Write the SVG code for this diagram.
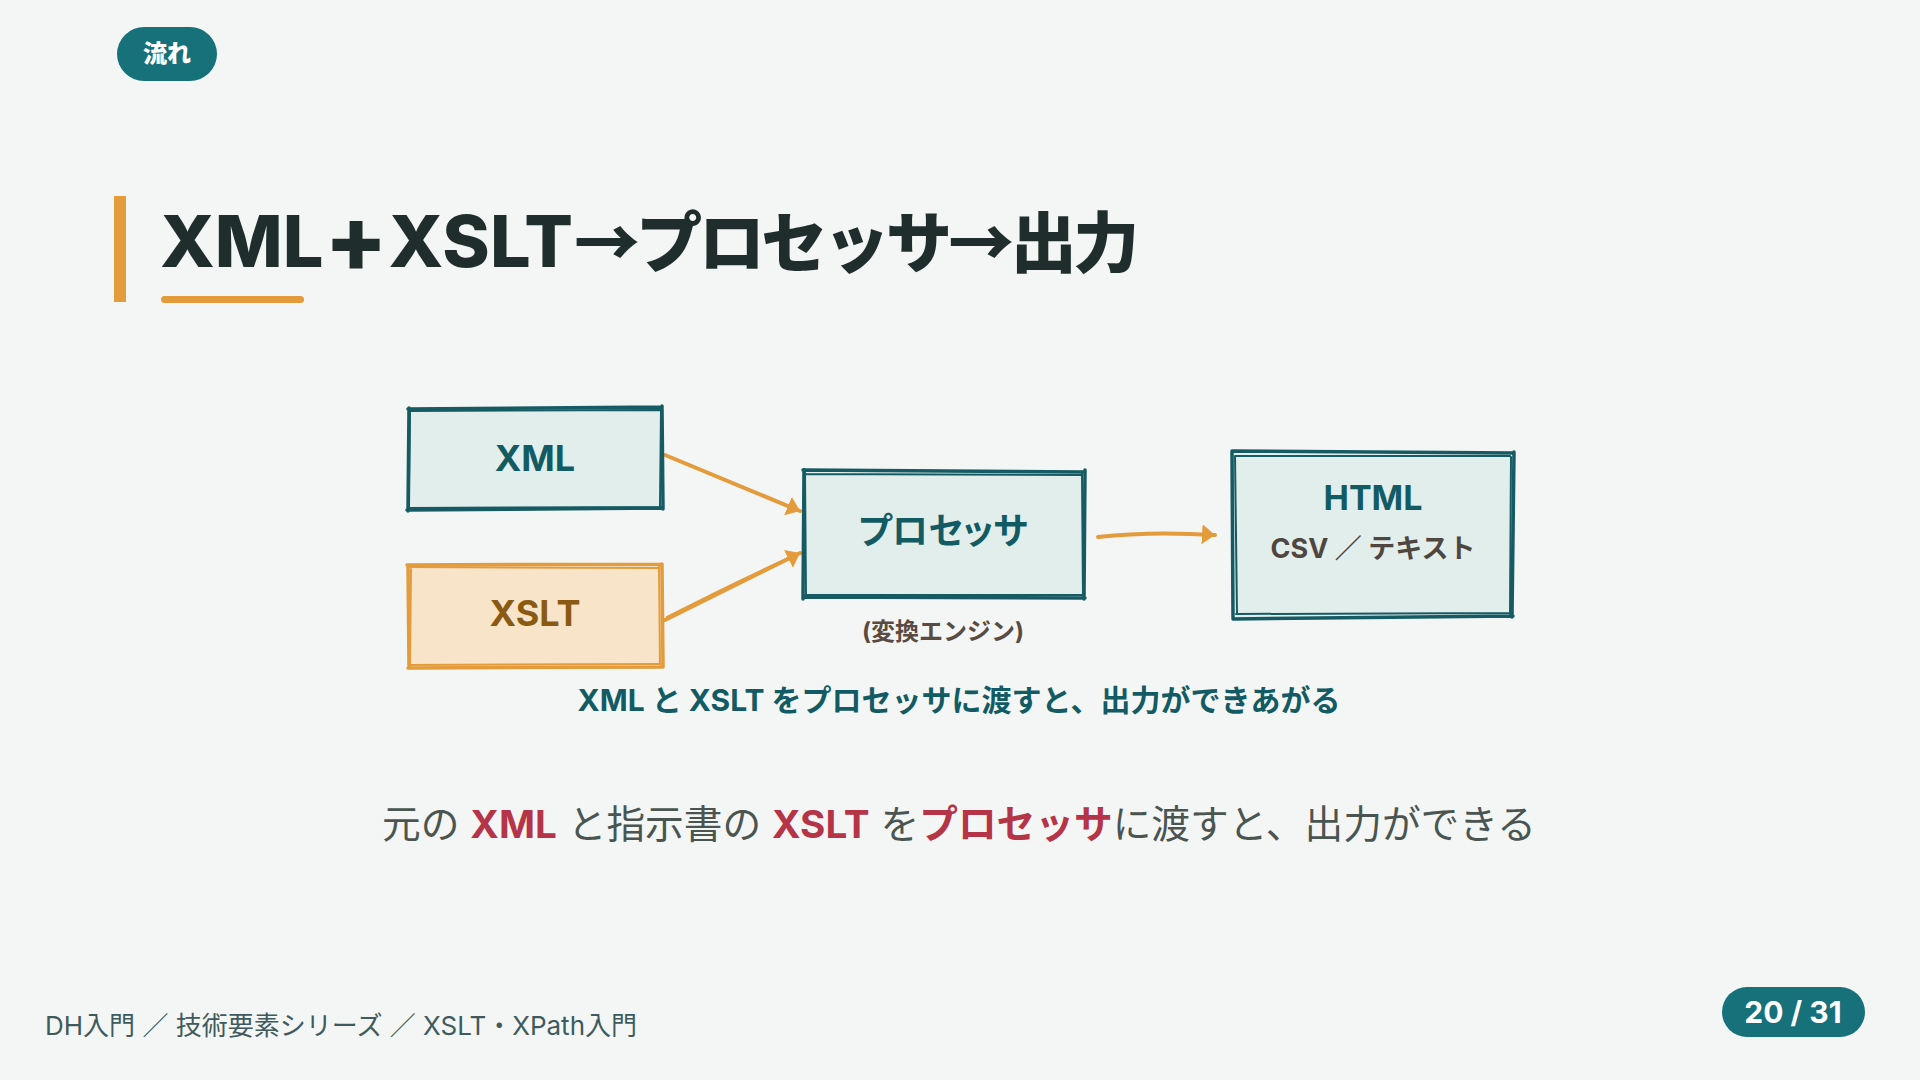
<svg xmlns="http://www.w3.org/2000/svg" width="1920" height="1080" viewBox="0 0 1920 1080">
<style>
.jp{font-family:Inter,"Noto Sans CJK JP","Noto Sans",sans-serif}
.cjk{font-family:"Noto Sans CJK JP",sans-serif}
.b{font-weight:700}
.skt{fill:none;stroke:#165b64;stroke-linecap:round;stroke-linejoin:round}
.sko{fill:none;stroke:#e39b3b;stroke-linecap:round;stroke-linejoin:round}
.w1{stroke-width:3.5}
.w2{stroke-width:2}
.conn{fill:none;stroke:#e39b3b;stroke-width:4;stroke-linecap:round}
.lbl{font-size:36px;text-anchor:middle;font-weight:700}
</style>
<defs>
<marker id="ah" markerUnits="userSpaceOnUse" markerWidth="20" markerHeight="22" refX="13" refY="10" orient="auto">
<path d="M0,0 L13,10 L0,20 Z" fill="#e39b3b"/>
</marker>
</defs>
<rect width="1920" height="1080" fill="#f4f6f5"/>

<g id="tag">
<rect x="117" y="27" width="100" height="54" rx="27" fill="#17717a"/>
<text x="167" y="62" class="jp" font-weight="800" font-size="24" fill="#ffffff" text-anchor="middle">流れ</text>
</g>

<g id="title">
<rect x="114" y="196" width="12" height="106" fill="#e39b3b"/>
<text x="160" y="267" class="jp" font-weight="800" font-size="72" fill="#1f2e2c">XML<tspan dx="1" dy="5" font-size="92">+</tspan><tspan dx="1" dy="-5">XSLT</tspan><tspan class="cjk" dx="1" font-size="66" letter-spacing="-3.6">→プロセッサ→出力</tspan></text>
<rect x="161" y="296" width="143" height="7" rx="3.5" fill="#e39b3b"/>
</g>

<g id="connectors">
<path class="conn" d="M665 455 L800 511" marker-end="url(#ah)"/>
<path class="conn" d="M665 620 Q730 588 800 553" marker-end="url(#ah)"/>
<path d="M667 617 Q735 582 795 555" fill="none" stroke="#e39b3b" stroke-width="2" stroke-linecap="round"/>
<path class="conn" d="M1098 537 Q1150 531 1215 535" marker-end="url(#ah)"/>
</g>

<g id="node-xml">
<rect x="409" y="409" width="252" height="99" fill="#e2eeec"/>
<path class="skt w1" d="M408 409 L662 407 M662 406 L663 509 M663 508 L407 510 M408 511 L409 408"/>
<path class="skt w2" d="M410 411 L660 410 M661 410 L660 506 M661 507 L409 508 M409 508 L410 410"/>
<text x="535" y="471" class="jp lbl" fill="#135b64">XML</text>
</g>

<g id="node-xslt">
<rect x="409" y="565" width="252" height="101" fill="#f7e4c9"/>
<path class="sko w1" d="M407 565 L662 564 M662 564 L663 667 M662 667 L408 668 M409 668 L408 565"/>
<path class="sko w2" d="M409 567 L660 568 M659 566 L660 665 M661 664 L410 665 M410 666 L411 566"/>
<text x="535" y="626" class="jp lbl" fill="#8b5a12">XSLT</text>
</g>

<g id="node-processor">
<rect x="804" y="472" width="280" height="126" fill="#e2eeec"/>
<path class="skt w1" d="M803 470 L1084 472 M1085 470 L1084 599 M1085 598 L804 597 M803 599 L804 470"/>
<path class="skt w2" d="M805 474 L1082 475 M1082 474 L1083 596 M1083 595 L805 595 M806 596 L805 473"/>
<text x="943" y="544" class="jp lbl" fill="#135b64" style="font-feature-settings:'palt'">プロセッサ</text>
<text x="943" y="640" class="jp b" font-size="24" fill="#5b4a3f" text-anchor="middle">(変換エンジン)</text>
</g>

<g id="node-output">
<rect x="1233" y="453" width="280" height="165" fill="#e2eeec"/>
<path class="skt w1" d="M1232 451 L1514 453 M1514 452 L1512 617 M1513 616 L1233 619 M1233 618 L1232 452"/>
<path class="skt w2" d="M1236 456 L1510 456 M1511 457 L1510 614 M1510 613 L1236 614 M1237 614 L1235 456"/>
<text x="1373" y="510" class="jp b" font-size="34" fill="#135b64" text-anchor="middle">HTML</text>
<text x="1373" y="558" class="jp b" font-size="27" fill="#4f463f" text-anchor="middle">CSV ／ テキスト</text>
</g>

<g id="caption">
<text x="959" y="711" class="jp b" font-size="30" fill="#135b64" text-anchor="middle">XML と XSLT をプロセッサに渡すと、出力ができあがる</text>
</g>

<g id="summary">
<text x="959" y="838" class="jp" font-size="38.7" fill="#4a5551" text-anchor="middle">元の <tspan class="b" fill="#b53447">XML</tspan> と指示書の <tspan class="b" fill="#b53447">XSLT</tspan> を<tspan class="b" fill="#b53447">プロセッサ</tspan>に渡すと、出力ができる</text>
</g>

<g id="footer">
<text x="45" y="1035" class="jp" font-size="26" fill="#3f5a5c">DH入門 ／ 技術要素シリーズ ／ XSLT・XPath入門</text>
</g>

<g id="page">
<rect x="1722" y="987" width="143" height="50" rx="25" fill="#17717a"/>
<text x="1793" y="1023" class="jp b" font-size="30" fill="#ffffff" text-anchor="middle">20 / 31</text>
</g>
</svg>
